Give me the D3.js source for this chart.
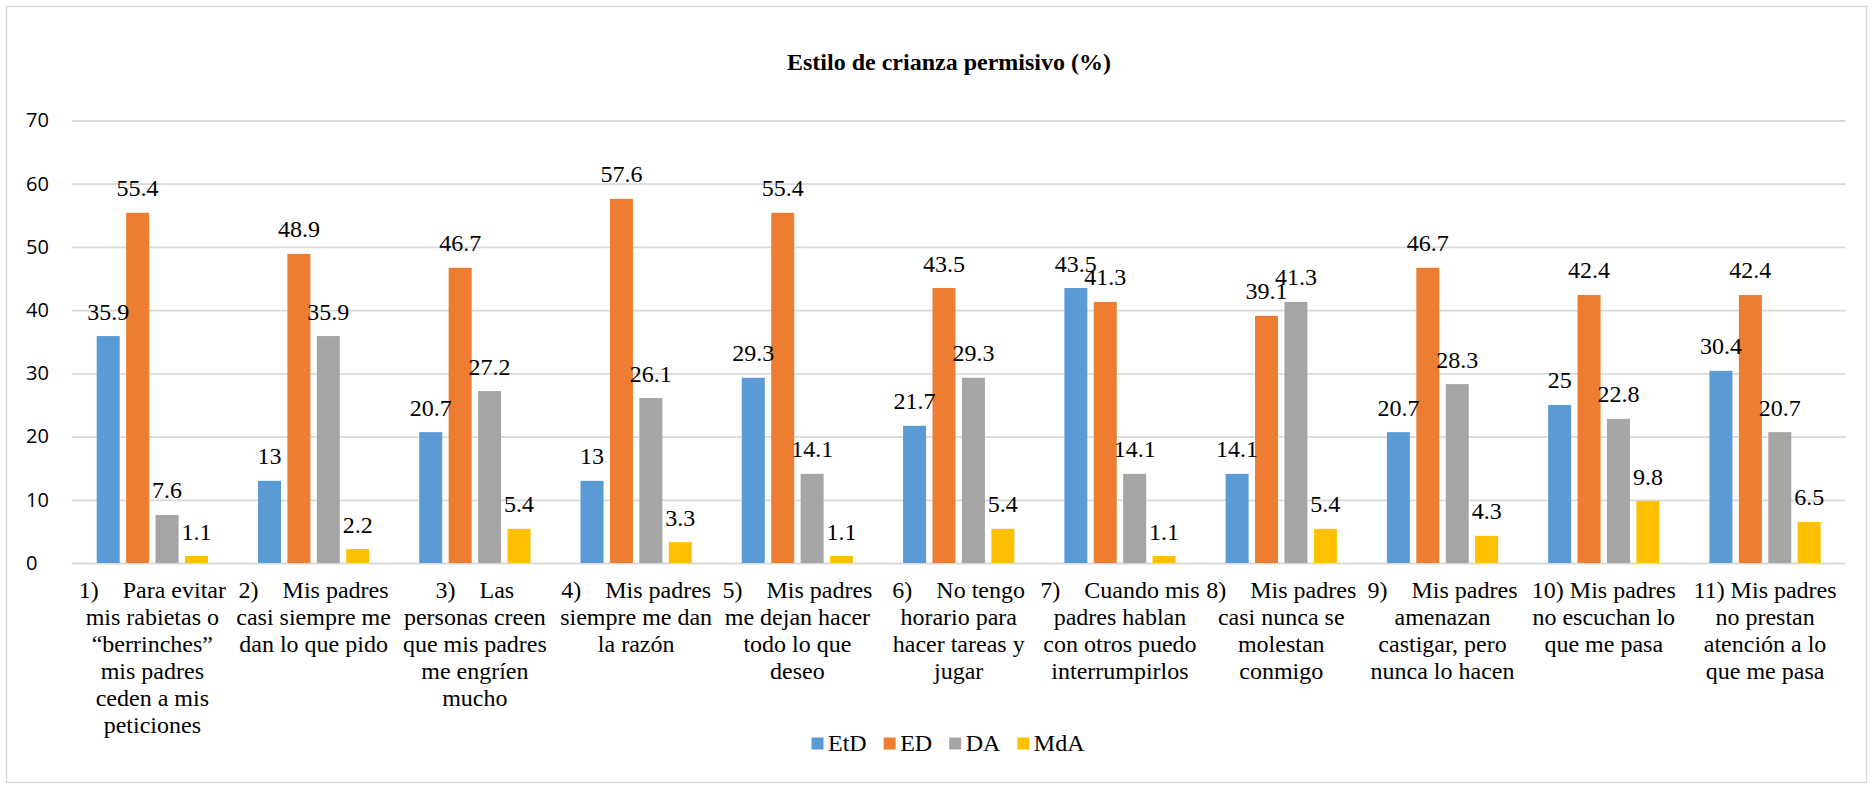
<!DOCTYPE html>
<html>
<head>
<meta charset="utf-8">
<script src="https://cdn.jsdelivr.net/npm/d3@7"></script>
<style>
  body { margin: 0; background: #fff; }
  svg { display: block; }
</style>
</head>
<body>
<svg id="chart" width="1874" height="790"></svg>
<script>
// category labels, already broken into lines as in the original
const categories = [
  ['1)\u00a0\u00a0\u00a0\u00a0Para evitar', 'mis rabietas o', '\u201cberrinches\u201d', 'mis padres', 'ceden a mis', 'peticiones'],
  ['2)\u00a0\u00a0\u00a0\u00a0Mis padres', 'casi siempre me', 'dan lo que pido'],
  ['3)\u00a0\u00a0\u00a0\u00a0Las', 'personas creen', 'que mis padres', 'me engríen', 'mucho'],
  ['4)\u00a0\u00a0\u00a0\u00a0Mis padres', 'siempre me dan', 'la razón'],
  ['5)\u00a0\u00a0\u00a0\u00a0Mis padres', 'me dejan hacer', 'todo lo que', 'deseo'],
  ['6)\u00a0\u00a0\u00a0\u00a0No tengo', 'horario para', 'hacer tareas y', 'jugar'],
  ['7)\u00a0\u00a0\u00a0\u00a0Cuando mis', 'padres hablan', 'con otros puedo', 'interrumpirlos'],
  ['8)\u00a0\u00a0\u00a0\u00a0Mis padres', 'casi nunca se', 'molestan', 'conmigo'],
  ['9)\u00a0\u00a0\u00a0\u00a0Mis padres', 'amenazan', 'castigar, pero', 'nunca lo hacen'],
  ['10) Mis padres', 'no escuchan lo', 'que me pasa'],
  ['11) Mis padres', 'no prestan', 'atención a lo', 'que me pasa']
];

const seriesNames = ['EtD', 'ED', 'DA', 'MdA'];
const etd = [35.9, 13, 20.7, 13, 29.3, 21.7, 43.5, 14.1, 20.7, 25, 30.4];
const ed = [55.4, 48.9, 46.7, 57.6, 55.4, 43.5, 41.3, 39.1, 46.7, 42.4, 42.4];
const da = [7.6, 35.9, 27.2, 26.1, 14.1, 29.3, 14.1, 41.3, 28.3, 22.8, 20.7];
const mda = [1.1, 2.2, 5.4, 3.3, 1.1, 5.4, 1.1, 5.4, 4.3, 9.8, 6.5];
const yTicks = [0, 10, 20, 30, 40, 50, 60, 70];

const seriesValues = [etd, ed, da, mda];
const colors = ['#5b9bd5', '#ed7d31', '#a5a5a5', '#ffc000'];
const serif = '"Liberation Serif", "Times New Roman", serif';

const svg = d3.select('#chart');

// outer chart frame
svg.append('rect')
  .attr('x', 6.5).attr('y', 6.5)
  .attr('width', 1860).attr('height', 776)
  .attr('fill', '#fff')
  .attr('stroke', '#d9d9d9')
  .attr('stroke-width', 1.5);

const plot = { left: 71.7, right: 1845.7, top: 120.5, bottom: 563 };

const x0 = d3.scaleBand()
  .domain(d3.range(categories.length))
  .range([plot.left, plot.right])
  .padding(0);

const x1 = d3.scaleBand()
  .domain(seriesNames)
  .range([0, x0.bandwidth()])
  .paddingInner(0.218)
  .paddingOuter(0.85);

const y = d3.scaleLinear().domain([0, 70]).range([plot.bottom, plot.top]);

// gridlines + y labels
const yAxis = svg.append('g')
  .attr('transform', `translate(${plot.left},0)`)
  .call(d3.axisLeft(y).tickValues(yTicks).tickSize(-(plot.right - plot.left)).tickPadding(0));
yAxis.select('.domain').remove();
yAxis.selectAll('.tick line').attr('stroke', '#d9d9d9').attr('stroke-width', 1.8);
yAxis.selectAll('.tick text')
  .attr('x', 26 - plot.left)
  .attr('text-anchor', 'start')
  .attr('fill', '#000')
  .attr('font-family', '"Open Sans", sans-serif')
  .attr('font-size', 20);

// title
svg.append('text')
  .attr('x', 949).attr('y', 70)
  .attr('text-anchor', 'middle')
  .attr('font-family', serif)
  .attr('font-weight', 'bold')
  .attr('font-size', 24)
  .text('Estilo de crianza permisivo (%)');

// bars
const groups = svg.append('g')
  .selectAll('g')
  .data(categories.map((c, i) => i))
  .join('g')
  .attr('transform', (i) => `translate(${x0(i)},0)`);

groups.selectAll('rect')
  .data((i) => seriesNames.map((s, k) => ({ s, k, v: seriesValues[k][i] })))
  .join('rect')
  .attr('x', (d) => x1(d.s))
  .attr('y', (d) => y(d.v))
  .attr('width', x1.bandwidth())
  .attr('height', (d) => y(0) - y(d.v))
  .attr('fill', (d) => colors[d.k]);

groups.selectAll('text.val')
  .data((i) => seriesNames.map((s, k) => ({ s, k, v: seriesValues[k][i] })))
  .join('text')
  .attr('class', 'val')
  .attr('x', (d) => x1(d.s) + x1.bandwidth() / 2)
  .attr('y', (d) => y(d.v) - 16.5)
  .attr('text-anchor', 'middle')
  .attr('font-family', serif)
  .attr('font-size', 24)
  .attr('fill', '#000')
  .text((d) => d.v);

// category labels
const catLabels = svg.append('g')
  .selectAll('text')
  .data(categories)
  .join('text')
  .attr('x', (d, i) => x0(i) + x0.bandwidth() / 2)
  .attr('y', 598.3)
  .attr('text-anchor', 'middle')
  .attr('font-family', serif)
  .attr('font-size', 24)
  .attr('fill', '#000');

catLabels.selectAll('tspan')
  .data((d) => d)
  .join('tspan')
  .attr('x', function () { return this.parentNode.getAttribute('x'); })
  .attr('dy', (d, j) => (j === 0 ? 0 : 27))
  .text((d) => d);

// legend
const legend = svg.append('g');
let lx = 0;
seriesNames.forEach((s, k) => {
  const item = legend.append('g').attr('transform', `translate(${lx},0)`);
  item.append('rect')
    .attr('x', 0).attr('y', 737.5)
    .attr('width', 12).attr('height', 12)
    .attr('fill', colors[k]);
  const t = item.append('text')
    .attr('x', 16.5).attr('y', 751)
    .attr('font-family', serif)
    .attr('font-size', 24)
    .attr('fill', '#000')
    .text(s);
  lx += 16.5 + t.node().getComputedTextLength() + 17;
});
const legendWidth = lx - 17;
legend.attr('transform', `translate(${948 - legendWidth / 2},0)`);
</script>
</body>
</html>
